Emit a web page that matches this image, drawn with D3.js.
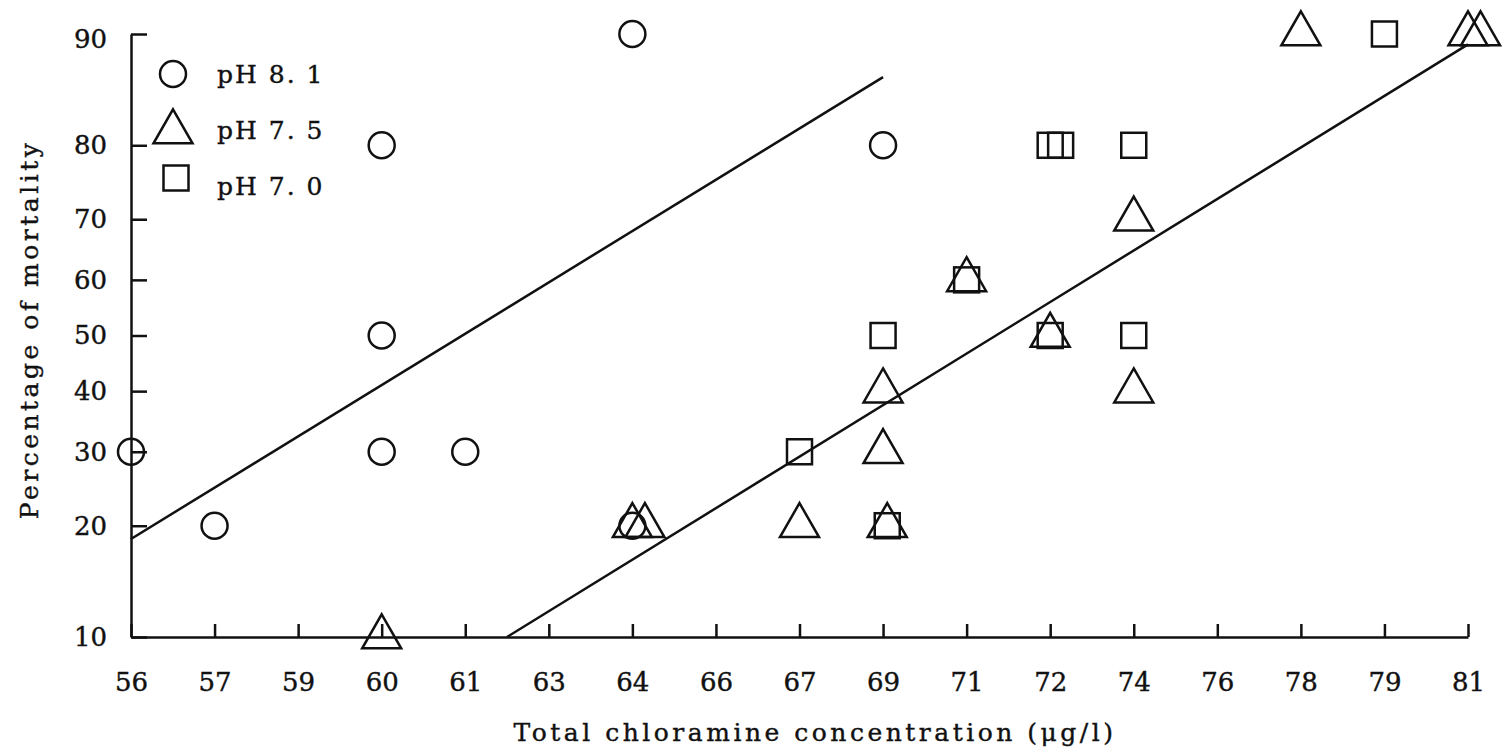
<!DOCTYPE html>
<html>
<head>
<meta charset="utf-8">
<script src="https://cdnjs.cloudflare.com/ajax/libs/d3/7.8.5/d3.min.js"></script>
<style>
  body { margin: 0; background: #fff; }
  text { font-family: "DejaVu Serif", serif; fill: #111; stroke: #111; stroke-width: 0.4px; }
  .axis path, .axis line { stroke: #111; stroke-width: 2.5; }
  .axis text { font-size: 26px; font-family: "DejaVu Serif", serif; fill: #111; stroke: #111; stroke-width: 0.4px; }
  .mark { fill: none; stroke: #111; stroke-width: 2.5; }
  .fit { fill: none; stroke: #111; stroke-width: 2.5; }
  .axisTitle { font-size: 25px; letter-spacing: 3.5px; }
  .legendText { font-size: 25px; letter-spacing: 2px; }
</style>
</head>
<body>
<div id="chart"></div>
<script>
// Tick labels (x ticks are evenly spaced on the original graph paper)
var xTicks = [56, 57, 59, 60, 61, 63, 64, 66, 67, 69, 71, 72, 74, 76, 78, 79, 81];
var yTicks = [10, 20, 30, 40, 50, 60, 70, 80, 90];

// Observations: [concentration, % mortality]
var ph81 = [[56, 30], [57, 20], [60, 80], [60, 50], [60, 30], [61, 30], [64, 90], [64, 20], [69, 80]];
var ph75 = [[60, 10], [64, 20], [64.3, 20], [67, 20], [69.1, 20], [69, 30], [69, 40], [71, 60],
            [72, 50], [74, 40], [74, 70], [78, 90], [81, 90], [81.3, 90]];
var ph70 = [[67, 30], [69.1, 20], [69, 50], [71, 60], [72, 50], [72, 80], [72.25, 80],
            [74, 50], [74, 80], [79, 90]];

// Fitted lines (end points)
var fitHigh = [[56, 18.5], [69, 86.8]];
var fitLow = [[62, 10], [81, 89.3]];

var legendLabels = ["pH 8. 1", "pH 7. 5", "pH 7. 0"];

var svgWidth = 1502;
var svgHeight = 751;

var margin = {
  top: 34,
  right: 34,
  bottom: 114,
  left: 131
};

var width = svgWidth - margin.left - margin.right;
var height = svgHeight - margin.top - margin.bottom;

var svg = d3.select("#chart")
  .append("svg")
  .attr("width", svgWidth)
  .attr("height", svgHeight)
  .style("background", "#fff");

var chartGroup = svg.append("g")
  .attr("transform", `translate(${margin.left}, ${margin.top})`);

// Scales
// ==============================
// x: polylinear so that every labelled tick sits on an even step
var xScale = d3.scaleLinear()
  .domain(xTicks)
  .range(xTicks.map(function(d, i) { return i * width / (xTicks.length - 1); }));

// y: probability paper (logit)
function logit(p) { return Math.log(p / (100 - p)); }
function unlogit(v) { return 100 / (1 + Math.exp(-v)); }

var yScale = d3.scaleLinear()
  .domain([logit(10), logit(90)])
  .range([height, 0]);

function px(d) { return xScale(d[0]); }
function py(d) { return yScale(logit(d[1])); }

// Axes
// ==============================
var bottomAxis = d3.axisBottom(xScale)
  .tickValues(xTicks)
  .tickFormat(d3.format("d"))
  .tickSizeInner(-13)
  .tickSizeOuter(0)
  .tickPadding(36);

var leftAxis = d3.axisLeft(yScale)
  .tickValues(yTicks.map(logit))
  .tickFormat(function(v) { return Math.round(unlogit(v)); })
  .tickSizeInner(-16)
  .tickSizeOuter(0)
  .tickPadding(24);

chartGroup.append("g")
  .attr("class", "axis")
  .attr("transform", `translate(0, ${height})`)
  .call(bottomAxis);

var yAxisG = chartGroup.append("g")
  .attr("class", "axis")
  .call(leftAxis);

// the top label sits a little below its tick on the original
yAxisG.selectAll(".tick:last-of-type text").attr("dy", "0.5em");

// Fitted lines
// ==============================
var line = d3.line().x(px).y(py);

chartGroup.append("path").datum(fitHigh).attr("class", "fit").attr("d", line);
chartGroup.append("path").datum(fitLow).attr("class", "fit").attr("d", line);

// Markers
// ==============================
var circleR = 13;
var triW = 39, triH = 34;
var sqSide = 25;
var triPath = `M0,${-triH * 2 / 3}L${triW / 2},${triH / 3}L${-triW / 2},${triH / 3}Z`;

function drawCircle(g) {
  g.append("circle").attr("class", "mark").attr("r", circleR);
}
function drawTriangle(g) {
  g.append("path").attr("class", "mark").attr("d", triPath);
}
function drawSquare(g) {
  g.append("rect").attr("class", "mark")
    .attr("x", -sqSide / 2).attr("y", -sqSide / 2)
    .attr("width", sqSide).attr("height", sqSide);
}

function addSeries(data, draw) {
  chartGroup.append("g").selectAll("g")
    .data(data)
    .enter()
    .append("g")
    .attr("transform", function(d) { return `translate(${px(d)}, ${py(d)})`; })
    .each(function() { draw(d3.select(this)); });
}

addSeries(ph81, drawCircle);
addSeries(ph75, drawTriangle);
addSeries(ph70, drawSquare);

// Legend
// ==============================
var legendShapes = [drawCircle, drawTriangle, drawSquare];
var legendNudge = [0, 2, -8];

var legend = svg.append("g").attr("transform", "translate(173, 74)");

legendLabels.forEach(function(label, i) {
  var row = legend.append("g").attr("transform", `translate(0, ${i * 56})`);
  var mark = row.append("g").attr("transform", `translate(${i === 2 ? 3 : 0}, ${legendNudge[i]})`);
  legendShapes[i](mark);
  row.append("text")
    .attr("class", "legendText")
    .attr("x", 44)
    .attr("y", 9)
    .text(label);
});

// Axis titles
// ==============================
svg.append("text")
  .attr("class", "axisTitle")
  .attr("transform", "rotate(-90)")
  .attr("x", -(margin.top + height / 2 - 6))
  .attr("y", 38)
  .attr("text-anchor", "middle")
  .text("Percentage of mortality");

svg.append("text")
  .attr("class", "axisTitle")
  .attr("x", 815)
  .attr("y", 741)
  .attr("text-anchor", "middle")
  .text("Total chloramine concentration (\u03bcg/l)");
</script>
</body>
</html>
